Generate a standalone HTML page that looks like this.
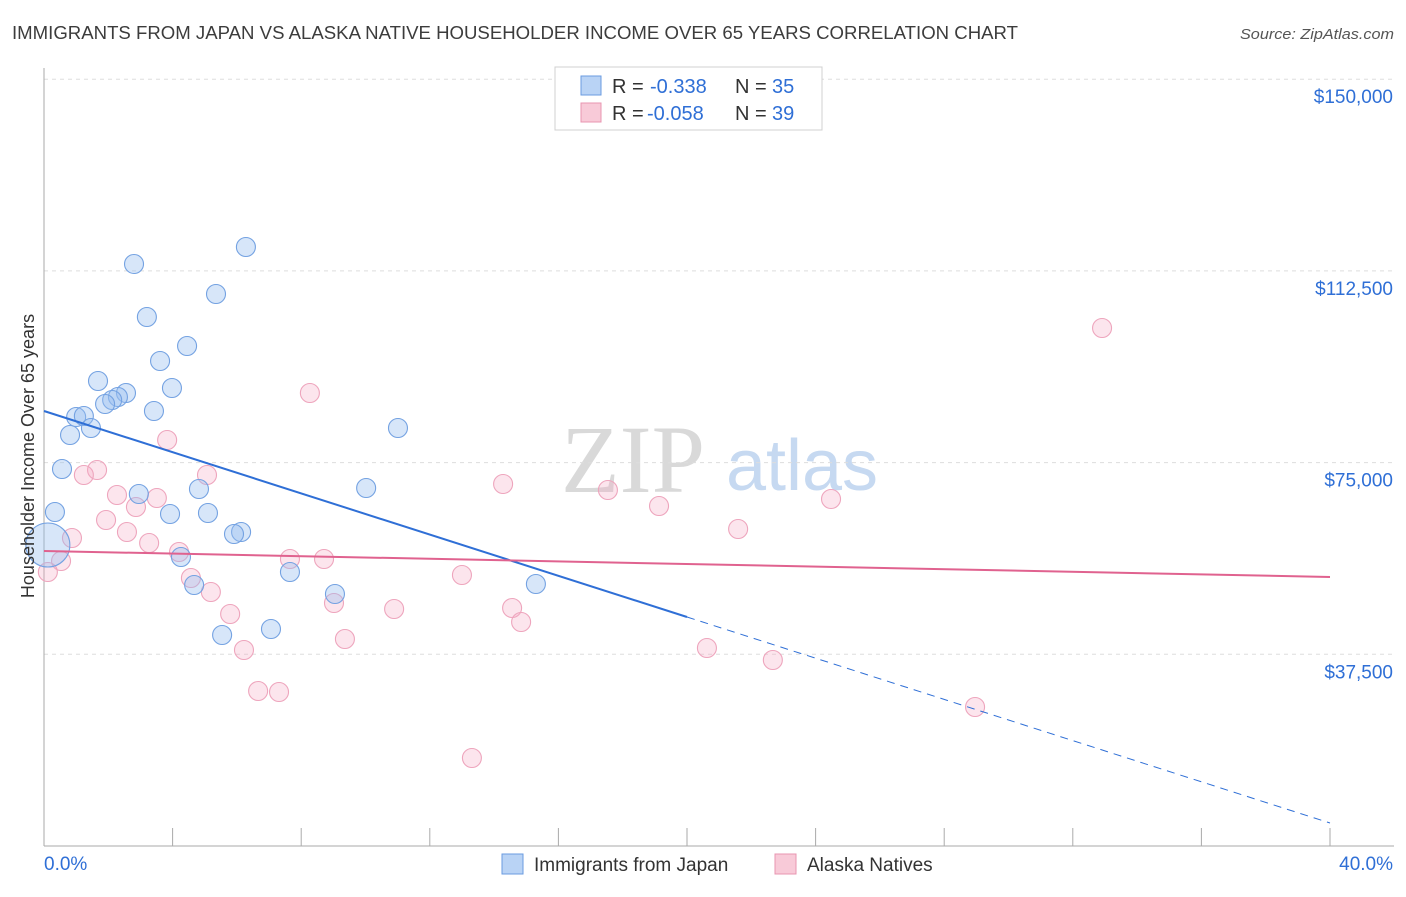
<!DOCTYPE html>
<html><head><meta charset="utf-8"><style>
body{margin:0;background:#fff;font-family:"Liberation Sans",sans-serif;}
svg text{font-family:"Liberation Sans",sans-serif;}
</style></head><body>
<svg id="chart" width="1406" height="892" xmlns="http://www.w3.org/2000/svg">
<text x="12" y="39" font-size="18" fill="#3c3c3c" textLength="1006" lengthAdjust="spacingAndGlyphs">IMMIGRANTS FROM JAPAN VS ALASKA NATIVE HOUSEHOLDER INCOME OVER 65 YEARS CORRELATION CHART</text>
<text x="1394" y="39" font-size="15" fill="#555" font-style="italic" text-anchor="end" textLength="154" lengthAdjust="spacingAndGlyphs">Source: ZipAtlas.com</text>
<g>
<text x="633" y="492" font-size="96" fill="#d9d9d9" text-anchor="middle" style="font-family:'Liberation Serif',serif">ZIP</text>
<text x="802" y="490" font-size="72" fill="#c6d9f1" text-anchor="middle">atlas</text>
</g>
<g id="grid"></g>
<g id="axes"></g>
<g id="marks"></g>
<g id="lines"></g>
<g>
<rect x="555" y="67" width="267" height="63" fill="#fff" stroke="#d0d0d0"/>
<rect x="581" y="76" width="20" height="19" fill="#b9d3f5" stroke="#6a9be0"/>
<text y="93" font-size="20" fill="#333"><tspan x="612">R =</tspan><tspan x="650" fill="#2f6fd6">-0.338</tspan><tspan x="735">N =</tspan><tspan x="772" fill="#2f6fd6">35</tspan></text>
<rect x="581" y="103" width="20" height="19" fill="#f8cad8" stroke="#e895b0"/>
<text y="120" font-size="20" fill="#333"><tspan x="612">R =</tspan><tspan x="647" fill="#2f6fd6">-0.058</tspan><tspan x="735">N =</tspan><tspan x="772" fill="#2f6fd6">39</tspan></text>
</g>
<g>
<rect x="502" y="854" width="21" height="20" fill="#b9d3f5" stroke="#6a9be0"/>
<text x="534" y="871" font-size="19" fill="#333">Immigrants from Japan</text>
<rect x="775" y="854" width="21" height="20" fill="#f8cad8" stroke="#e895b0"/>
<text x="807" y="871" font-size="19" fill="#333">Alaska Natives</text>
</g>
<text transform="translate(34,456) rotate(-90)" font-size="18" fill="#333" text-anchor="middle">Householder Income Over 65 years</text>
</svg>
<script>
const yTicks=[37500,75000,112500,150000];
const yTickLabels=["$37,500","$75,000","$112,500","$150,000"];
const xTickCount=10;
const japanX=[2.80,6.28,5.35,3.20,4.45,3.61,1.68,3.98,2.55,2.30,2.12,1.90,3.42,1.00,1.24,1.46,0.81,11.01,0.56,2.95,4.82,10.02,0.34,3.92,5.10,6.13,5.91,4.26,7.65,4.67,9.05,15.30,5.54,7.06,0.12];
const japanY=[113851,117177,107982,103483,97810,94876,90963,89594,88616,87833,87246,86464,85094,83921,84117,81770,80400,81770,73749,68858,69836,70032,65337,64946,65141,61424,61033,56534,53600,51057,49296,51253,41276,42450,58882];
const alaskaX=[32.91,8.27,3.83,1.65,1.24,5.07,14.28,17.54,2.27,3.51,24.48,19.13,2.86,1.93,21.59,2.58,0.87,3.27,4.20,0.53,7.65,8.71,0.12,4.57,13.00,5.19,9.02,10.89,14.56,14.84,5.79,9.36,6.22,20.62,22.67,6.66,7.31,28.96,13.31];
const alaskaY=[101332,88616,79422,73553,72575,72575,70815,69641,68663,68076,67880,66511,66315,63772,62012,61424,60251,59273,57512,55752,56143,56143,53600,52426,53013,49687,47536,46362,46557,43819,45384,40493,38341,38732,36384,30321,30125,27191,17214];
const japanTrend=[85095,4499];
const alaskaTrend=[57708,52622];
const NS="http://www.w3.org/2000/svg";
const X0=44,X1=1330,Y0=846;
function sx(v){return X0+(v/40)*(X1-X0);}
function sy(v){return Y0-(v/37500)*191.7;}
function mk(tag,attrs,parent){const e=document.createElementNS(NS,tag);for(const k in attrs)e.setAttribute(k,attrs[k]);parent.appendChild(e);return e;}
const grid=document.getElementById('grid'),axes=document.getElementById('axes'),marks=document.getElementById('marks'),lines=document.getElementById('lines');
yTicks.forEach((t,i)=>{
 const l=mk('line',{x1:X0,x2:1394,y1:sy(t),y2:sy(t),stroke:'#ddd','stroke-dasharray':'4,4'},grid);
 
 
 const tx=mk('text',{x:1393,y:sy(t)+24,'font-size':19,fill:'#2f6fd6','text-anchor':'end'},axes);
 tx.textContent=yTickLabels[i];
 
 
});
mk('line',{x1:X0,x2:X0,y1:68,y2:Y0,stroke:'#aaa'},axes);
mk('line',{x1:X0,x2:1394,y1:Y0,y2:Y0,stroke:'#aaa'},axes);
for(let i=1;i<=xTickCount;i++){
 const x=sx(i*40/xTickCount);
 const t=mk('line',{x1:x,x2:x,y1:Y0,y2:Y0-18,stroke:'#aaa'},axes);
 
 
}
const xl=mk('text',{x:44,y:870,'font-size':19,fill:'#2f6fd6'},axes);xl.textContent='0.0%';


const xr=mk('text',{x:1393,y:870,'font-size':19,fill:'#2f6fd6','text-anchor':'end'},axes);xr.textContent='40.0%';


alaskaX.forEach((v,i)=>{
 const c=mk('circle',{cx:sx(v),cy:sy(alaskaY[i]),r:9.5,fill:'rgba(244,170,195,0.3)',stroke:'#eea5bd','stroke-width':1.1},marks);
 
 
});
japanX.forEach((v,i)=>{
 const big=i===japanX.length-1;
 const c=mk('circle',{cx:sx(v),cy:sy(japanY[i]),r:big?22:9.5,fill:'rgba(150,190,240,0.38)',stroke:'#74a2e2','stroke-width':1.1},marks);
 
 
});
const jm=japanTrend[0]+(japanTrend[1]-japanTrend[0])*0.5;
const j1=mk('line',{x1:sx(0),y1:sy(japanTrend[0]),x2:sx(20),y2:sy(jm),stroke:'#2f6fd6','stroke-width':2},lines);


const j2=mk('line',{x1:sx(20),y1:sy(jm),x2:sx(40),y2:sy(japanTrend[1]),stroke:'#2f6fd6','stroke-width':1,'stroke-dasharray':'8,6'},lines);


const a1=mk('line',{x1:sx(0),y1:sy(alaskaTrend[0]),x2:sx(40),y2:sy(alaskaTrend[1]),stroke:'#e0628f','stroke-width':2},lines);


</script>
</body></html>
